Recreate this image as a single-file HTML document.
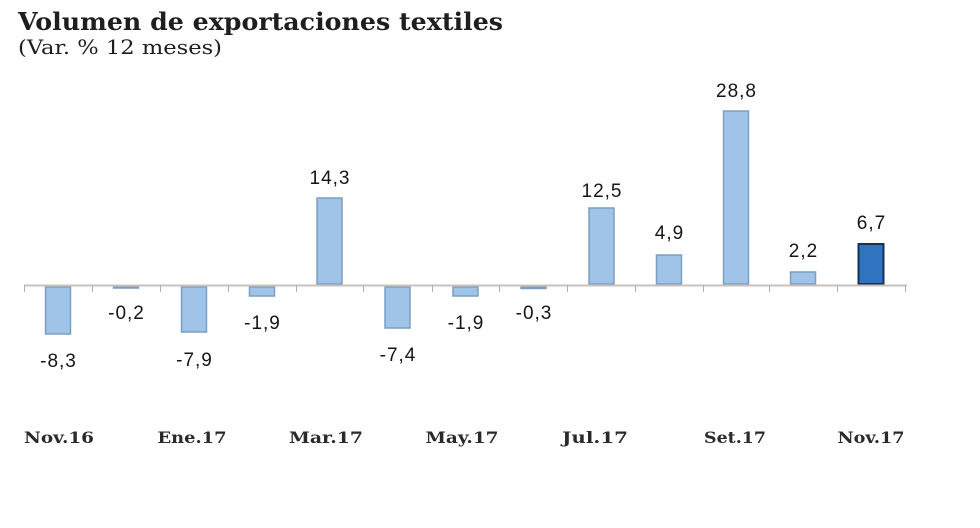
<!DOCTYPE html>
<html>
<head>
<meta charset="utf-8">
<style>
html,body{margin:0;padding:0;background:#fff;}
svg{display:block;}
</style>
</head>
<body>
<svg width="980" height="528" viewBox="0 0 980 528" xmlns="http://www.w3.org/2000/svg">
<rect width="980" height="528" fill="#ffffff"/>
<!-- Title -->
<text x="18" y="30" font-family="'DejaVu Serif','Liberation Serif',serif" font-weight="bold" font-size="24" fill="#1e1e1e" textLength="485" lengthAdjust="spacingAndGlyphs">Volumen de exportaciones textiles</text>
<text x="18" y="54" font-family="'DejaVu Serif','Liberation Serif',serif" font-size="20" fill="#1e1e1e" textLength="204" lengthAdjust="spacingAndGlyphs">(Var. % 12 meses)</text>

<!-- Bars -->
<g fill="#9fc4e8" stroke="#7d9dc3" stroke-width="1.5">
<rect x="45.5" y="287" width="25" height="47"/>
<rect x="113.5" y="287" width="25" height="1"/>
<rect x="181.5" y="287" width="25" height="45"/>
<rect x="249.5" y="287" width="25" height="9"/>
<rect x="317" y="198" width="25" height="86"/>
<rect x="385" y="287" width="25" height="41"/>
<rect x="453" y="287" width="25" height="9"/>
<rect x="521" y="287" width="25" height="1.5"/>
<rect x="589" y="208" width="25" height="76"/>
<rect x="656.5" y="255" width="25" height="29"/>
<rect x="723.5" y="111" width="25" height="173"/>
<rect x="790.5" y="272" width="25" height="12"/>
</g>
<rect x="858.5" y="244" width="25" height="40" fill="#2e74bf" stroke="#1a2f55" stroke-width="2"/>

<!-- Axis -->
<line x1="24" y1="285.5" x2="907" y2="285.5" stroke="#c9c2bb" stroke-width="2"/>
<g stroke="#b5b0aa" stroke-width="1">
<line x1="24.5" y1="285" x2="24.5" y2="292"/>
<line x1="92.5" y1="285" x2="92.5" y2="292"/>
<line x1="160.5" y1="285" x2="160.5" y2="292"/>
<line x1="228.5" y1="285" x2="228.5" y2="292"/>
<line x1="296.5" y1="285" x2="296.5" y2="292"/>
<line x1="363.5" y1="285" x2="363.5" y2="292"/>
<line x1="432.5" y1="285" x2="432.5" y2="292"/>
<line x1="499.5" y1="285" x2="499.5" y2="292"/>
<line x1="567.5" y1="285" x2="567.5" y2="292"/>
<line x1="635.5" y1="285" x2="635.5" y2="292"/>
<line x1="703.5" y1="285" x2="703.5" y2="292"/>
<line x1="769.5" y1="285" x2="769.5" y2="292"/>
<line x1="837.5" y1="285" x2="837.5" y2="292"/>
<line x1="905.5" y1="285" x2="905.5" y2="292"/>
</g>

<!-- Data labels -->
<g font-family="'Liberation Sans',sans-serif" font-size="19" fill="#151515" text-anchor="middle" letter-spacing="1">
<text x="58.5" y="367">-8,3</text>
<text x="126.5" y="319">-0,2</text>
<text x="194.5" y="366">-7,9</text>
<text x="262.5" y="329">-1,9</text>
<text x="330" y="184">14,3</text>
<text x="398" y="361">-7,4</text>
<text x="466" y="329">-1,9</text>
<text x="534" y="319">-0,3</text>
<text x="602" y="197">12,5</text>
<text x="669.5" y="239">4,9</text>
<text x="736.5" y="97">28,8</text>
<text x="803.5" y="257">2,2</text>
<text x="871.5" y="229">6,7</text>
</g>

<!-- X labels -->
<g font-family="'DejaVu Serif','Liberation Serif',serif" font-weight="bold" font-size="16" fill="#2a2a2a" text-anchor="middle">
<text x="59" y="443" textLength="70" lengthAdjust="spacingAndGlyphs">Nov.16</text>
<text x="192" y="443" textLength="69" lengthAdjust="spacingAndGlyphs">Ene.17</text>
<text x="326" y="443" textLength="74" lengthAdjust="spacingAndGlyphs">Mar.17</text>
<text x="462" y="443" textLength="73" lengthAdjust="spacingAndGlyphs">May.17</text>
<text x="595" y="443" textLength="66" lengthAdjust="spacingAndGlyphs">Jul.17</text>
<text x="735" y="443" textLength="62" lengthAdjust="spacingAndGlyphs">Set.17</text>
<text x="871" y="443" textLength="67" lengthAdjust="spacingAndGlyphs">Nov.17</text>
</g>
</svg>
</body>
</html>
